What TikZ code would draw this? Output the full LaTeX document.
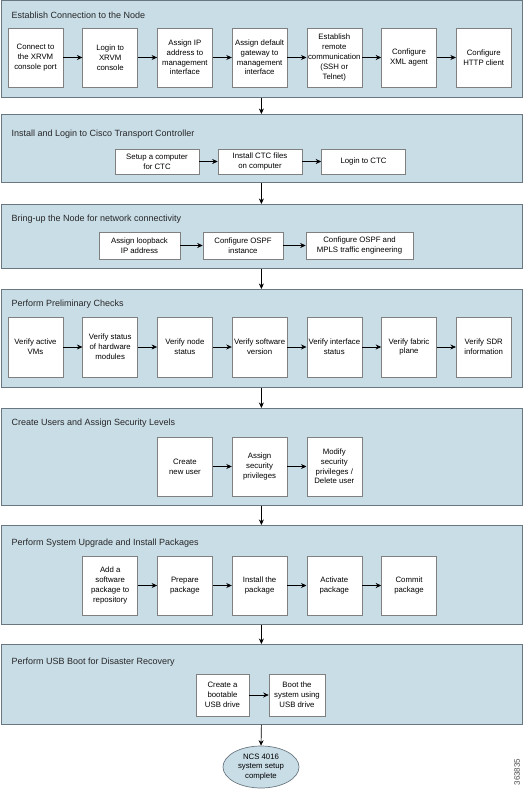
\documentclass[tikz,border=0pt]{standalone}
\usepackage{fontspec}
\setmainfont{Liberation Sans}
\usetikzlibrary{arrows.meta,shapes.geometric}
\definecolor{panelblue}{RGB}{201,221,231}
\definecolor{edgegray}{RGB}{105,120,128}
\begin{document}
\begin{tikzpicture}[x=1pt,y=-1pt,
  panel/.style={draw=edgegray,line width=0.8pt,fill=panelblue,anchor=north west,inner sep=0pt,minimum width=521pt},
  head/.style={anchor=west,font=\fontsize{9}{11}\selectfont,text=black!85},
  box/.style={draw=gray,fill=white,line width=0.6pt,align=center,inner sep=1pt,
    font=\fontsize{7.8}{9.8}\selectfont,minimum width=55pt,minimum height=59pt},
  flow/.style={-{Stealth[length=5.5pt,width=5pt]},line width=0.7pt}]
\useasboundingbox (0,0) rectangle (524,789);

% panels
\node[panel,minimum height=96.5pt] (p1) at (0.5,0.5) {};
\node[panel,minimum height=68pt] (p2) at (0.5,114) {};
\node[panel,minimum height=64pt] (p3) at (0.5,204) {};
\node[panel,minimum height=98pt] (p4) at (0.5,289) {};
\node[panel,minimum height=97pt] (p5) at (0.5,408) {};
\node[panel,minimum height=99pt] (p6) at (0.5,525) {};
\node[panel,minimum height=80pt] (p7) at (0.5,644) {};

\node[head] at (8,15) {Establish Connection to the Node};
\node[head] at (8,134) {Install and Login to Cisco Transport Controller};
\node[head] at (8,219) {Bring-up the Node for network connectivity};
\node[head] at (8,304) {Perform Preliminary Checks};
\node[head] at (8,423) {Create Users and Assign Security Levels};
\node[head] at (8,543) {Perform System Upgrade and Install Packages};
\node[head] at (8,662) {Perform USB Boot for Disaster Recovery};

% establish connection
\node[box] (a1) at (35.5,57.5) {Connect to\\the XRVM\\console port};
\node[box] (a2) at (110.2,57.5) {Login to\\XRVM\\console};
\node[box] (a3) at (184.9,57.5) {Assign IP\\address to\\management\\interface};
\node[box] (a4) at (259.6,57.5) {Assign default\\gateway to\\management\\interface};
\node[box] (a5) at (334.3,57.5) {Establish\\remote\\communication\\(SSH or\\Telnet)};
\node[box] (a6) at (409,57.5) {Configure\\XML agent};
\node[box] (a7) at (483.7,57.5) {Configure\\HTTP client};
\draw[flow] (a1) -- (a2);
\draw[flow] (a2) -- (a3);
\draw[flow] (a3) -- (a4);
\draw[flow] (a4) -- (a5);
\draw[flow] (a5) -- (a6);
\draw[flow] (a6) -- (a7);

% ctc
\node[box,minimum width=84pt,minimum height=25pt] (b1) at (157,161.5) {Setup a computer\\for CTC};
\node[box,minimum width=84pt,minimum height=25pt] (b2) at (260,161.5) {Install CTC files\\on computer};
\node[box,minimum width=84pt,minimum height=25pt] (b3) at (363.5,161.5) {Login to CTC};
\draw[flow] (b1) -- (b2);
\draw[flow] (b2) -- (b3);

% bring-up
\node[box,minimum width=81pt,minimum height=27pt] (c1) at (139.5,245.5) {Assign loopback\\IP address};
\node[box,minimum width=80pt,minimum height=27pt] (c2) at (243,245.5) {Configure OSPF\\instance};
\node[box,minimum width=107pt,minimum height=27pt] (c3) at (359.5,245.5) {Configure OSPF and\\MPLS traffic engineering};
\draw[flow] (c1) -- (c2);
\draw[flow] (c2) -- (c3);

% checks
\node[box,minimum height=60pt] (d1) at (35.5,347) {Verify active\\VMs};
\node[box,minimum height=60pt] (d2) at (110.2,347) {Verify status\\of hardware\\modules};
\node[box,minimum height=60pt] (d3) at (184.9,347) {Verify node\\status};
\node[box,minimum height=60pt] (d4) at (259.6,347) {Verify software\\version};
\node[box,minimum height=60pt] (d5) at (334.3,347) {Verify interface\\status};
\node[box,minimum height=60pt] (d6) at (409,347) {Verify fabric\\plane};
\node[box,minimum height=60pt] (d7) at (483.7,347) {Verify SDR\\information};
\draw[flow] (d1) -- (d2);
\draw[flow] (d2) -- (d3);
\draw[flow] (d3) -- (d4);
\draw[flow] (d4) -- (d5);
\draw[flow] (d5) -- (d6);
\draw[flow] (d6) -- (d7);

% users
\node[box] (e1) at (184.9,466.5) {Create\\new user};
\node[box] (e2) at (259.6,466.5) {Assign\\security\\privileges};
\node[box] (e3) at (334.3,466.5) {Modify\\security\\privileges /\\Delete user};
\draw[flow] (e1) -- (e2);
\draw[flow] (e2) -- (e3);

% packages
\node[box] (f1) at (110.2,585.5) {Add a\\software\\package to\\repository};
\node[box] (f2) at (184.9,585.5) {Prepare\\package};
\node[box] (f3) at (259.6,585.5) {Install the\\package};
\node[box] (f4) at (334.3,585.5) {Activate\\package};
\node[box] (f5) at (409,585.5) {Commit\\package};
\draw[flow] (f1) -- (f2);
\draw[flow] (f2) -- (f3);
\draw[flow] (f3) -- (f4);
\draw[flow] (f4) -- (f5);

% usb boot
\node[box,minimum width=53pt,minimum height=42pt] (g1) at (222.5,695) {Create a\\bootable\\USB drive};
\node[box,minimum width=56pt,minimum height=42pt] (g2) at (297,695) {Boot the\\system using\\USB drive};
\draw[flow] (g1) -- (g2);

\node[ellipse,draw=edgegray,fill=panelblue,line width=0.7pt,minimum width=76pt,minimum height=42pt,
  inner sep=0pt,align=center,font=\fontsize{7.8}{9.8}\selectfont] (done) at (261,767) {NCS 4016\\system setup\\complete};

% between panels
\draw[flow] (p1.south) -- (p2.north);
\draw[flow] (p2.south) -- (p3.north);
\draw[flow] (p3.south) -- (p4.north);
\draw[flow] (p4.south) -- (p5.north);
\draw[flow] (p5.south) -- (p6.north);
\draw[flow] (p6.south) -- (p7.north);
\draw[flow] (p7.south) -- (done.north);

\node[rotate=90,font=\fontsize{8}{9}\selectfont,text=black!70] (fig) at (517,772) {363835};
\end{tikzpicture}
\end{document}
